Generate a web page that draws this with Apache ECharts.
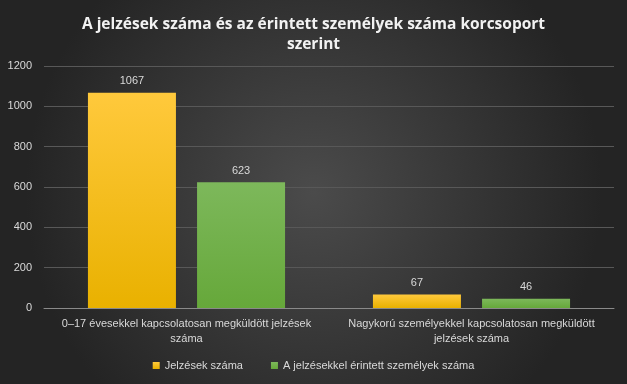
<!DOCTYPE html>
<html><head><meta charset="utf-8">
<script src="https://cdn.jsdelivr.net/npm/echarts@6/dist/echarts.min.js"></script>
<style>html,body{margin:0;padding:0;}#c{width:627px;height:384px;}</style>
</head><body><div id="c"></div>
<script>
const categories = ['0–17 évesekkel kapcsolatosan megküldött jelzések\nszáma', 'Nagykorú személyekkel kapcsolatosan megküldött\njelzések száma'];
const jelzesek = [1067, 67];
const erintett = [623, 46];
const seriesNames = ['Jelzések száma', 'A jelzésekkel érintett személyek száma'];
const titleText = 'A jelzések száma és az érintett személyek száma korcsoport\nszerint';

const chart = echarts.init(document.getElementById('c'));
const grad = (a, b) => new echarts.graphic.LinearGradient(0, 0, 0, 1, [{offset: 0, color: a}, {offset: 1, color: b}]);
chart.setOption({
  backgroundColor: new echarts.graphic.RadialGradient(0.5, 0.5, 0.75, [{offset: 0, color: '#4b4b4b'}, {offset: 1, color: '#242424'}]),
  title: {
    text: titleText, left: 'center', top: 10,
    textStyle: {color: '#f2f2f2', fontSize: 15.5, fontWeight: 'bold', fontFamily: 'Open Sans', lineHeight: 20}
  },
  legend: {
    bottom: 8, left: 'center', itemWidth: 7, itemHeight: 7, itemGap: 28, icon: 'rect',
    textStyle: {color: '#d9d9d9', fontSize: 11, fontFamily: 'Liberation Sans'}
  },
  grid: {left: 44, right: 13, top: 66, bottom: 76},
  xAxis: {
    type: 'category', data: categories,
    axisLine: {lineStyle: {color: '#8a8a8a'}}, axisTick: {show: false},
    axisLabel: {color: '#d9d9d9', fontSize: 11, fontFamily: 'Liberation Sans', lineHeight: 15, margin: 8, interval: 0}
  },
  yAxis: {
    type: 'value', min: 0, max: 1200, interval: 200,
    axisLine: {show: false}, axisTick: {show: false},
    splitLine: {lineStyle: {color: '#585858'}},
    axisLabel: {color: '#d9d9d9', fontSize: 11, fontFamily: 'Liberation Sans', margin: 12, formatter: v => String(v)}
  },
  series: [
    {name: seriesNames[0], type: 'bar', data: jelzesek, barWidth: 88, barGap: '24%',
     itemStyle: {color: grad('#ffc93c', '#e9b100')},
     label: {show: true, position: 'top', color: '#d9d9d9', fontSize: 11, fontFamily: 'Liberation Sans', distance: 6}},
    {name: seriesNames[1], type: 'bar', data: erintett, barWidth: 88,
     itemStyle: {color: grad('#7db85b', '#66a83a')},
     label: {show: true, position: 'top', color: '#d9d9d9', fontSize: 11, fontFamily: 'Liberation Sans', distance: 6}}
  ]
});
</script></body></html>
